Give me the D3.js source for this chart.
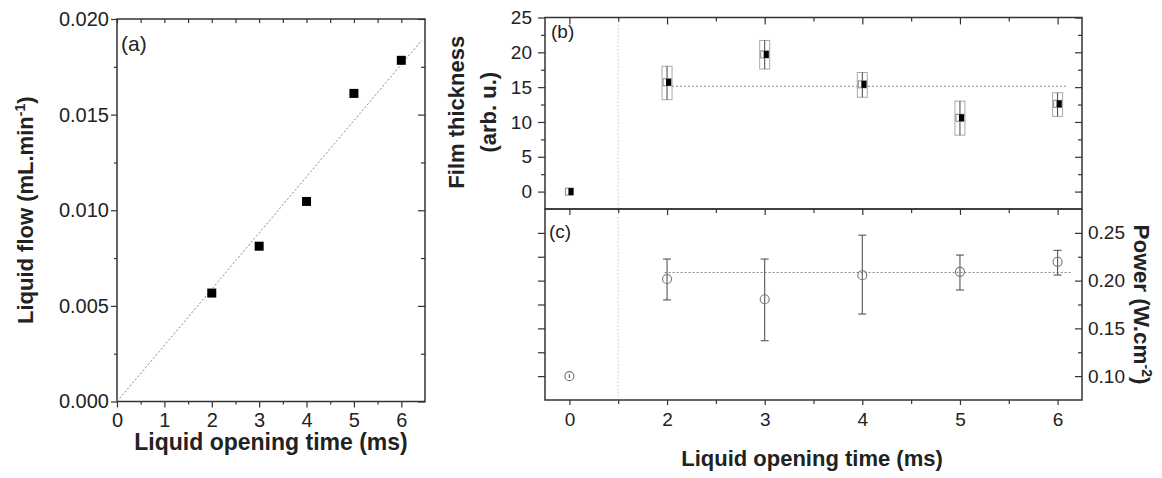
<!DOCTYPE html>
<html>
<head>
<meta charset="utf-8">
<script src="https://cdn.jsdelivr.net/npm/d3@7"></script>
<style>
  html, body { margin: 0; padding: 0; background: #fff; }
  svg { display: block; font-family: "Liberation Sans", Arial, sans-serif; }
</style>
</head>
<body>
<svg width="1162" height="478"></svg>
<script>
// ---- data: panel (a) liquid flow vs opening time
const timeA = [2, 3, 4, 5, 6];
const flowA = [0.00567, 0.00812, 0.01046, 0.01611, 0.01784];
const fitA = [[0, 0], [6.43, 0.01889]];
const xTicksA = [0, 1, 2, 3, 4, 5, 6];
const yTicksA = [0, 0.005, 0.010, 0.015, 0.020];

// ---- data: panels (b) and (c), broken x axis (0, then 2..6)
const timeBC = [0, 2, 3, 4, 5, 6];
const xLabelsBC = ['0', '2', '3', '4', '5', '6'];
const thick = [0, 15.7, 19.7, 15.4, 10.6, 12.6];
const thickLo = [-0.5, 13.2, 17.6, 13.55, 8.1, 10.8];
const thickHi = [0.5, 18.0, 21.7, 17.1, 13.0, 14.2];
const thickMean = 15.13;
const yTicksB = [0, 5, 10, 15, 20, 25];

const power = [0.100, 0.2017, 0.1805, 0.2057, 0.2092, 0.2197];
const powerLo = [0.098, 0.1798, 0.1371, 0.1650, 0.1902, 0.2059];
const powerHi = [0.102, 0.2226, 0.2226, 0.2476, 0.2268, 0.2317];
const powerMean = 0.2085;
const yTicksC = [0.10, 0.15, 0.20, 0.25];

const svg = d3.select('svg');
const ink = '#333';

// helper: draw an axis and strip its domain path
function drawAxis(axis, tx, ty, fontSize) {
    const g = svg.append('g')
        .attr('transform', `translate(${tx},${ty})`)
        .call(axis);
    g.select('.domain').remove();
    g.selectAll('line').attr('stroke', ink).attr('stroke-width', 1.2);
    g.selectAll('text').attr('fill', '#222').style('font-size', fontSize + 'px')
        .style('font-family', '"Liberation Sans", Arial, sans-serif');
    return g;
}
function frame(x0, y0, x1, y1) {
    svg.append('rect')
        .attr('x', x0).attr('y', y0)
        .attr('width', x1 - x0).attr('height', y1 - y0)
        .attr('fill', 'none').attr('stroke', ink).attr('stroke-width', 1.5);
}

// ================= panel (a)
const A = { left: 117, right: 425, top: 19, bottom: 401.5 };
const xA = d3.scaleLinear().domain([0, 6.5]).range([A.left, A.right]);
const yA = d3.scaleLinear().domain([0, 0.02]).range([A.bottom, A.top]);
const halfA = d3.range(0.5, 6.5, 1);
const minorYA = d3.range(0.0025, 0.02, 0.005);

drawAxis(d3.axisBottom(xA).tickValues(xTicksA).tickSize(6).tickPadding(5).tickFormat(d3.format('d')), 0, A.bottom, 20);
drawAxis(d3.axisBottom(xA).tickValues(halfA).tickSize(3).tickFormat(''), 0, A.bottom, 20);
drawAxis(d3.axisTop(xA).tickValues(xTicksA.concat(halfA)).tickSize(-4).tickFormat(''), 0, A.top, 20);
drawAxis(d3.axisLeft(yA).tickValues(yTicksA).tickSize(6).tickPadding(2).tickFormat(d3.format('.3f')), A.left, 0, 20);
drawAxis(d3.axisLeft(yA).tickValues(minorYA).tickSize(3).tickFormat(''), A.left, 0, 20);
drawAxis(d3.axisRight(yA).tickValues(yTicksA).tickSize(-7).tickFormat(''), A.right, 0, 20);
drawAxis(d3.axisRight(yA).tickValues(minorYA).tickSize(-4).tickFormat(''), A.right, 0, 20);
frame(A.left, A.top, A.right, A.bottom);

svg.append('path')
    .datum(fitA)
    .attr('d', d3.line().x(d => xA(d[0])).y(d => yA(d[1])))
    .attr('fill', 'none').attr('stroke', '#888').attr('stroke-width', 1)
    .attr('stroke-dasharray', '2,2');

svg.append('g').selectAll('rect')
    .data(timeA.map((t, i) => [t, flowA[i]]))
    .join('rect')
    .attr('x', d => xA(d[0]) - 4.5).attr('y', d => yA(d[1]) - 4.5)
    .attr('width', 9).attr('height', 9).attr('fill', '#000');

svg.append('text').attr('x', A.left + 4).attr('y', A.top + 32)
    .style('font-size', '21px').attr('fill', '#222').text('(a)');

svg.append('text')
    .attr('transform', `translate(271,450)`)
    .attr('text-anchor', 'middle')
    .style('font-size', '23px').style('font-weight', 'bold').attr('fill', '#222')
    .text('Liquid opening time (ms)');

const yLabA = svg.append('text')
    .attr('transform', `translate(33,${(A.top + A.bottom) / 2}) rotate(-90)`)
    .attr('text-anchor', 'middle')
    .style('font-size', '22px').style('font-weight', 'bold').attr('fill', '#222');
yLabA.append('tspan').text('Liquid flow (mL.min');
yLabA.append('tspan').attr('dy', -8).style('font-size', '14px').text('-1');
yLabA.append('tspan').attr('dy', 8).text(')');

// ================= panels (b) and (c)
const B = { left: 545, right: 1082, top: 17.5, bottom: 209 };
const C = { left: 545, right: 1082, top: 209, bottom: 400 };
const unit = (B.right - B.left) / 5.5;
const xBC = d3.scaleLinear()
    .domain([-0.25, 0, 2, 6.25])
    .range([B.left, B.left + 0.25 * unit, B.left + 1.25 * unit, B.right]);
const yB = d3.scaleLinear().domain([-2.5, 25]).range([B.bottom, B.top]);
const yC = d3.scaleLinear().domain([0.075, 0.275]).range([C.bottom, C.top]);
const minorBC = [1, 2.5, 3.5, 4.5, 5.5];
const labelOf = t => xLabelsBC[timeBC.indexOf(t)];

// break line at the gap in the time axis
svg.append('line')
    .attr('x1', xBC(1)).attr('x2', xBC(1))
    .attr('y1', B.top).attr('y2', C.bottom)
    .attr('stroke', '#ccc').attr('stroke-width', 1).attr('stroke-dasharray', '1.5,2');

// (b) axes
drawAxis(d3.axisTop(xBC).tickValues(timeBC).tickSize(-7).tickFormat(''), 0, B.top, 18);
drawAxis(d3.axisTop(xBC).tickValues(minorBC).tickSize(-4).tickFormat(''), 0, B.top, 18);
drawAxis(d3.axisLeft(yB).tickValues(yTicksB).tickSize(7).tickPadding(6), B.left, 0, 19);
drawAxis(d3.axisLeft(yB).tickValues(d3.range(2.5, 25, 5)).tickSize(4).tickFormat(''), B.left, 0, 19);
drawAxis(d3.axisRight(yB).tickValues(yTicksB).tickSize(-7).tickFormat(''), B.right, 0, 19);
drawAxis(d3.axisRight(yB).tickValues(d3.range(2.5, 25, 5)).tickSize(-4).tickFormat(''), B.right, 0, 19);

// (c) axes
drawAxis(d3.axisTop(xBC).tickValues(timeBC).tickSize(-6).tickFormat(''), 0, C.top, 18);
drawAxis(d3.axisTop(xBC).tickValues(minorBC).tickSize(-4).tickFormat(''), 0, C.top, 18);
drawAxis(d3.axisBottom(xBC).tickValues(timeBC).tickSize(5).tickPadding(8).tickFormat(labelOf), 0, C.bottom, 19);
drawAxis(d3.axisBottom(xBC).tickValues(minorBC).tickSize(4).tickFormat(''), 0, C.bottom, 19);
drawAxis(d3.axisLeft(yC).tickValues(d3.range(0.1, 0.26, 0.025)).tickSize(7).tickFormat(''), C.left, 0, 19);
drawAxis(d3.axisRight(yC).tickValues(yTicksC).tickSize(-7).tickPadding(6).tickFormat(d3.format('.2f')), C.right, 0, 19);
drawAxis(d3.axisRight(yC).tickValues([0.125, 0.175, 0.225]).tickSize(-4).tickFormat(''), C.right, 0, 19);

frame(B.left, B.top, B.right, B.bottom);
frame(C.left, C.top, C.right, C.bottom);

// (b) mean line
svg.append('line')
    .attr('x1', xBC(2.05)).attr('x2', xBC(6.1))
    .attr('y1', yB(thickMean)).attr('y2', yB(thickMean))
    .attr('stroke', '#888').attr('stroke-width', 1.2).attr('stroke-dasharray', '2,2');

// (b) boxes, whiskers, markers
const bData = timeBC.map((t, i) => ({ t, v: thick[i], lo: thickLo[i], hi: thickHi[i] }));
const bG = svg.append('g');
bG.selectAll('rect.box').data(bData.filter(d => d.t > 0)).join('rect')
    .attr('class', 'box')
    .attr('x', d => xBC(d.t) - 5).attr('y', d => yB(d.hi))
    .attr('width', 10).attr('height', d => yB(d.lo) - yB(d.hi))
    .attr('fill', 'none').attr('stroke', '#aaa').attr('stroke-width', 1);
bG.selectAll('line.wh').data(bData.filter(d => d.t > 0)).join('line')
    .attr('class', 'wh')
    .attr('x1', d => xBC(d.t)).attr('x2', d => xBC(d.t))
    .attr('y1', d => yB(d.hi)).attr('y2', d => yB(d.lo))
    .attr('stroke', '#444').attr('stroke-width', 1);
bG.selectAll('rect.hollow').data(bData).join('rect')
    .attr('class', 'hollow')
    .attr('x', d => xBC(d.t) - 4).attr('y', d => yB(d.v) - 3.5)
    .attr('width', 8).attr('height', 7)
    .attr('fill', '#fff').attr('stroke', '#888').attr('stroke-width', 1);
bG.selectAll('rect.mark').data(bData).join('rect')
    .attr('class', 'mark')
    .attr('x', d => xBC(d.t) - 1).attr('y', d => yB(d.v) - 3.5)
    .attr('width', 5).attr('height', 7)
    .attr('fill', '#000');

// (c) mean line
svg.append('line')
    .attr('x1', xBC(1.95)).attr('x2', xBC(6.14))
    .attr('y1', yC(powerMean)).attr('y2', yC(powerMean))
    .attr('stroke', '#888').attr('stroke-width', 1.2).attr('stroke-dasharray', '2,2');

// (c) error bars + hollow circles
const cData = timeBC.map((t, i) => ({ t, v: power[i], lo: powerLo[i], hi: powerHi[i] }));
const cG = svg.append('g').attr('stroke', '#555').attr('fill', 'none').attr('stroke-width', 1.1);
cG.selectAll('line.eb').data(cData).join('line')
    .attr('class', 'eb')
    .attr('x1', d => xBC(d.t)).attr('x2', d => xBC(d.t))
    .attr('y1', d => yC(d.hi)).attr('y2', d => yC(d.lo));
cG.selectAll('line.capHi').data(cData.filter(d => d.t > 0)).join('line')
    .attr('class', 'capHi')
    .attr('x1', d => xBC(d.t) - 4).attr('x2', d => xBC(d.t) + 4)
    .attr('y1', d => yC(d.hi)).attr('y2', d => yC(d.hi));
cG.selectAll('line.capLo').data(cData.filter(d => d.t > 0)).join('line')
    .attr('class', 'capLo')
    .attr('x1', d => xBC(d.t) - 4).attr('x2', d => xBC(d.t) + 4)
    .attr('y1', d => yC(d.lo)).attr('y2', d => yC(d.lo));
cG.selectAll('circle').data(cData).join('circle')
    .attr('cx', d => xBC(d.t)).attr('cy', d => yC(d.v)).attr('r', 4.5)
    .attr('stroke', '#777');

// panel tags
svg.append('text').attr('x', B.left + 6).attr('y', B.top + 20)
    .style('font-size', '19px').attr('fill', '#222').text('(b)');
svg.append('text').attr('x', C.left + 4).attr('y', C.top + 29)
    .style('font-size', '19px').attr('fill', '#222').text('(c)');

// axis titles
svg.append('text')
    .attr('x', 812).attr('y', 466)
    .attr('text-anchor', 'middle')
    .style('font-size', '22px').style('font-weight', 'bold').attr('fill', '#222')
    .text('Liquid opening time (ms)');

const yLabB = svg.append('text')
    .attr('transform', `translate(0,${(B.top + B.bottom) / 2 - 1}) rotate(-90)`)
    .attr('text-anchor', 'middle')
    .style('font-size', '22px').style('font-weight', 'bold').attr('fill', '#222');
yLabB.append('tspan').attr('x', 0).attr('y', 464).text('Film thickness');
yLabB.append('tspan').attr('x', 0).attr('y', 496).text('(arb. u.)');

const yLabC = svg.append('text')
    .attr('transform', `translate(1134,${(C.top + C.bottom) / 2}) rotate(90)`)
    .attr('text-anchor', 'middle')
    .style('font-size', '22.5px').style('font-weight', 'bold').attr('fill', '#222');
yLabC.append('tspan').text('Power (W.cm');
yLabC.append('tspan').attr('dy', -8).style('font-size', '14px').text('-2');
yLabC.append('tspan').attr('dy', 8).text(')');
</script>
</body>
</html>
